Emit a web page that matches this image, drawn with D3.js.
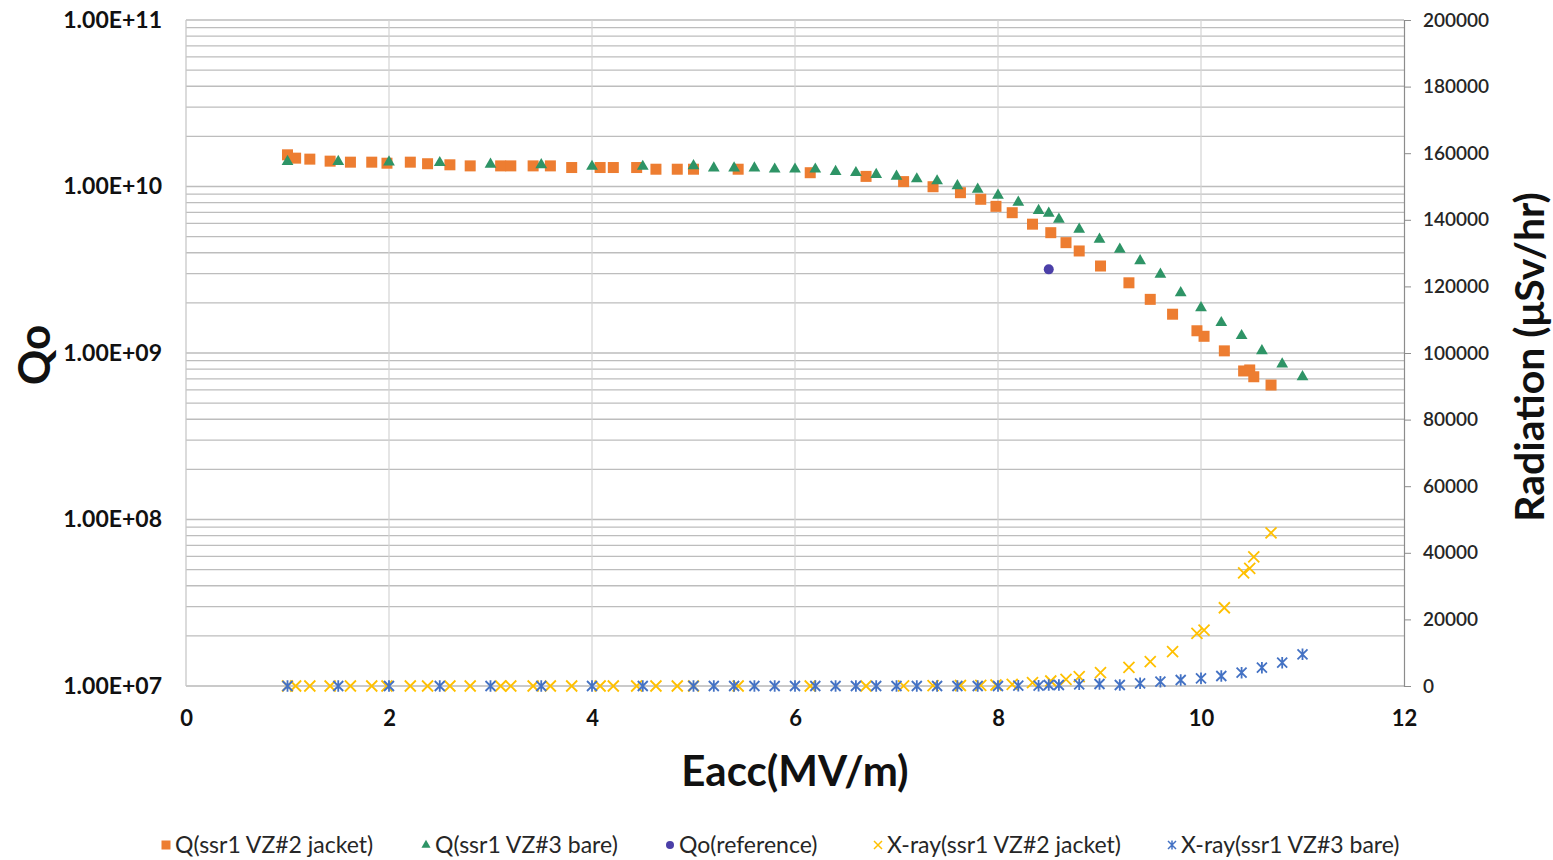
<!DOCTYPE html>
<html><head><meta charset="utf-8">
<script src="https://cdn.jsdelivr.net/npm/d3@7"></script>
<style>body{margin:0;background:#fff;} svg{display:block;} text{font-family:Lato,"Open Sans",sans-serif;}</style>
</head><body>
<svg id="c" width="1553" height="860"></svg>
<script>
// ---- data ----
const jacketE = [1.0,1.08,1.22,1.42,1.62,1.83,1.98,2.21,2.38,2.6,2.8,3.1,3.2,3.42,3.59,3.8,4.08,4.21,4.44,4.63,4.84,5.0,5.44,6.15,6.7,7.07,7.36,7.63,7.83,7.98,8.14,8.34,8.52,8.67,8.8,9.01,9.29,9.5,9.72,9.96,10.03,10.23,10.42,10.48,10.52,10.69];
const jacketQ = [1.55e10,1.48e10,1.46e10,1.42e10,1.40e10,1.40e10,1.38e10,1.40e10,1.37e10,1.35e10,1.33e10,1.33e10,1.33e10,1.33e10,1.33e10,1.30e10,1.30e10,1.30e10,1.30e10,1.27e10,1.27e10,1.27e10,1.27e10,1.21e10,1.15e10,1.07e10,9.97e9,9.18e9,8.38e9,7.60e9,6.96e9,5.94e9,5.28e9,4.60e9,4.10e9,3.33e9,2.64e9,2.10e9,1.71e9,1.36e9,1.26e9,1.03e9,7.80e8,7.91e8,7.20e8,6.42e8];
const jacketXray = [0,0,0,0,0,0,0,0,0,0,0,0,0,0,0,0,0,0,0,0,0,0,0,0,0,50,100,150,200,300,500,1000,1500,2000,2800,4000,5600,7300,10300,15800,16800,23500,34000,35300,38800,46000];
const bareE = [1.0,1.5,2.0,2.5,3.0,3.5,4.0,4.5,5.0,5.2,5.4,5.6,5.8,6.0,6.2,6.4,6.6,6.8,7.0,7.2,7.4,7.6,7.8,8.0,8.2,8.4,8.5,8.6,8.8,9.0,9.2,9.4,9.6,9.8,10.0,10.2,10.4,10.6,10.8,11.0];
const bareQ = [1.41e10,1.41e10,1.40e10,1.39e10,1.36e10,1.35e10,1.32e10,1.32e10,1.33e10,1.29e10,1.29e10,1.29e10,1.27e10,1.27e10,1.27e10,1.23e10,1.21e10,1.18e10,1.15e10,1.11e10,1.08e10,1.01e10,9.62e9,8.86e9,8.04e9,7.16e9,6.90e9,6.35e9,5.53e9,4.82e9,4.20e9,3.58e9,2.97e9,2.30e9,1.87e9,1.52e9,1.27e9,1.03e9,8.59e8,7.20e8];
const bareXray = [0,0,0,0,0,0,0,0,0,0,0,0,0,0,0,0,0,0,0,0,0,0,0,0,100,100,300,300,500,600,300,800,1300,1800,2300,3000,4000,5500,7000,9500];
const refE = [8.5];
const refQ = [3.18e9];
const xTicks = [0,2,4,6,8,10,12];
const yTickLabels = ["1.00E+07","1.00E+08","1.00E+09","1.00E+10","1.00E+11"];
const yTickValues = [1e7,1e8,1e9,1e10,1e11];
const y2Ticks = [0,20000,40000,60000,80000,100000,120000,140000,160000,180000,200000];
const legendLabels = ["Q(ssr1 VZ#2 jacket)","Q(ssr1 VZ#3 bare)","Qo(reference)","X-ray(ssr1 VZ#2 jacket)","X-ray(ssr1 VZ#3 bare)"];

// ---- layout ----
const L = 186, R = 1404, T = 20, B = 686;
const svg = d3.select("#c");
const x = d3.scaleLinear().domain([0,12]).range([L,R]);
const y = d3.scaleLog().domain([1e7,1e11]).range([B,T]);
const y2 = d3.scaleLinear().domain([0,200000]).range([B,T]);

const C = {orange:"#ED7D31", green:"#2E9466", purple:"#4B3FA8", yellow:"#FFC000", blue:"#4472C4"};

// horizontal log gridlines (major + minor)
const gridY = [];
for (let d = 7; d < 11; d++) for (let m = 1; m <= 9; m++) gridY.push(m*Math.pow(10,d));
gridY.push(1e11);
svg.append("g").selectAll("line").data(gridY).join("line")
  .attr("x1",L).attr("x2",R).attr("y1",d=>y(d)).attr("y2",d=>y(d))
  .attr("stroke","#bdbdbd").attr("stroke-width",1.3);
// vertical gridlines
svg.append("g").selectAll("line").data(xTicks.filter(d=>d>0 && d<12)).join("line")
  .attr("x1",d=>x(d)).attr("x2",d=>x(d)).attr("y1",T).attr("y2",B)
  .attr("stroke","#d4d4d4").attr("stroke-width",1.2);
// axis lines
svg.append("line").attr("x1",L).attr("x2",L).attr("y1",T).attr("y2",B).attr("stroke","#c8c8c8").attr("stroke-width",1.3);
svg.append("line").attr("x1",L).attr("x2",R).attr("y1",B).attr("y2",B).attr("stroke","#c8c8c8").attr("stroke-width",1.3);

// right axis
const ax2 = svg.append("g").attr("transform",`translate(${R},0)`)
  .call(d3.axisRight(y2).tickValues(y2Ticks).tickSize(7).tickPadding(12).tickFormat(d3.format("d")));
ax2.select(".domain").attr("stroke","#8c8c8c").attr("stroke-width",1.2);
ax2.selectAll(".tick line").attr("stroke","#8c8c8c");
ax2.selectAll(".tick text").attr("font-size",19).attr("font-weight",600).attr("fill","#262626").attr("font-family","Lato");

// left tick labels
const axL = svg.append("g").attr("transform",`translate(${L},0)`)
  .call(d3.axisLeft(y).tickValues(yTickValues).tickSize(0).tickPadding(24).tickFormat((d,i)=>yTickLabels[i]));
axL.select(".domain").remove();
axL.selectAll(".tick text").attr("font-size",23).attr("font-weight",700).attr("fill","#111").attr("font-family","Lato");

// bottom tick labels
const axB = svg.append("g").attr("transform",`translate(0,${B})`)
  .call(d3.axisBottom(x).tickValues(xTicks).tickSize(0).tickPadding(24).tickFormat(d3.format("d")));
axB.select(".domain").remove();
axB.selectAll(".tick text").attr("font-size",22).attr("font-weight",700).attr("fill","#111").attr("font-family","Lato");

// axis titles
svg.append("text").attr("x",(L+R)/2).attr("y",786).attr("text-anchor","middle")
  .attr("font-size",42).attr("font-weight",700).attr("fill","#111").text("Eacc(MV/m)");
svg.append("text").attr("transform","translate(50,355) rotate(-90)").attr("text-anchor","middle")
  .attr("font-size",44).attr("font-weight",700).attr("fill","#111").text("Qo");
svg.append("text").attr("transform","translate(1544,357) rotate(-90)").attr("text-anchor","middle")
  .attr("font-size",41).attr("font-weight",700).attr("fill","#111").text("Radiation (μSv/hr)");

// marker helpers
const sym = (type,size) => d3.symbol().type(type).size(size)();
const xPath = s => `M${-s},${-s}L${s},${s}M${-s},${s}L${s},${-s}`;
const starPath = s => `M${-s},${-s}L${s},${s}M${-s},${s}L${s},${-s}M0,${-s*1.15}L0,${s*1.15}`;

function zipped(a,b){ return a.map((v,i)=>[v,b[i]]); }

// Q jacket squares
svg.append("g").selectAll("rect").data(zipped(jacketE,jacketQ)).join("rect")
  .attr("x",d=>x(d[0])-5.5).attr("y",d=>y(d[1])-5.5).attr("width",11).attr("height",11)
  .attr("fill",C.orange);
// Q bare triangles
svg.append("g").selectAll("path").data(zipped(bareE,bareQ)).join("path")
  .attr("transform",d=>`translate(${x(d[0])},${y(d[1])})`)
  .attr("d",sym(d3.symbolTriangle,60)).attr("fill",C.green);
// reference
svg.append("g").selectAll("circle").data(zipped(refE,refQ)).join("circle")
  .attr("cx",d=>x(d[0])).attr("cy",d=>y(d[1])).attr("r",5).attr("fill",C.purple);
// X-ray jacket
svg.append("g").selectAll("path").data(zipped(jacketE,jacketXray)).join("path")
  .attr("transform",d=>`translate(${x(d[0])},${y2(d[1])})`)
  .attr("d",xPath(5.5)).attr("stroke",C.yellow).attr("stroke-width",1.8).attr("fill","none");
// X-ray bare
svg.append("g").selectAll("path").data(zipped(bareE,bareXray)).join("path")
  .attr("transform",d=>`translate(${x(d[0])},${y2(d[1])})`)
  .attr("d",starPath(5)).attr("stroke",C.blue).attr("stroke-width",1.8).attr("fill","none");

// legend
const legX = [166,426,670,878,1172];
const lg = svg.append("g");
legendLabels.forEach((lab,i)=>{
  const g = lg.append("g").attr("transform",`translate(${legX[i]},845)`);
  if(i===0) g.append("rect").attr("x",-4.5).attr("y",-4.5).attr("width",9).attr("height",9).attr("fill",C.orange);
  if(i===1) g.append("path").attr("d",sym(d3.symbolTriangle,36)).attr("fill",C.green);
  if(i===2) g.append("circle").attr("r",4).attr("fill",C.purple);
  if(i===3) g.append("path").attr("d",xPath(4)).attr("stroke",C.yellow).attr("stroke-width",1.5);
  if(i===4) g.append("path").attr("d",starPath(4)).attr("stroke",C.blue).attr("stroke-width",1.5);
  g.append("text").attr("x",9).attr("y",0).attr("dy","0.35em").attr("font-size",23)
    .attr("fill","#262626").text(lab);
});
</script>
</body></html>
